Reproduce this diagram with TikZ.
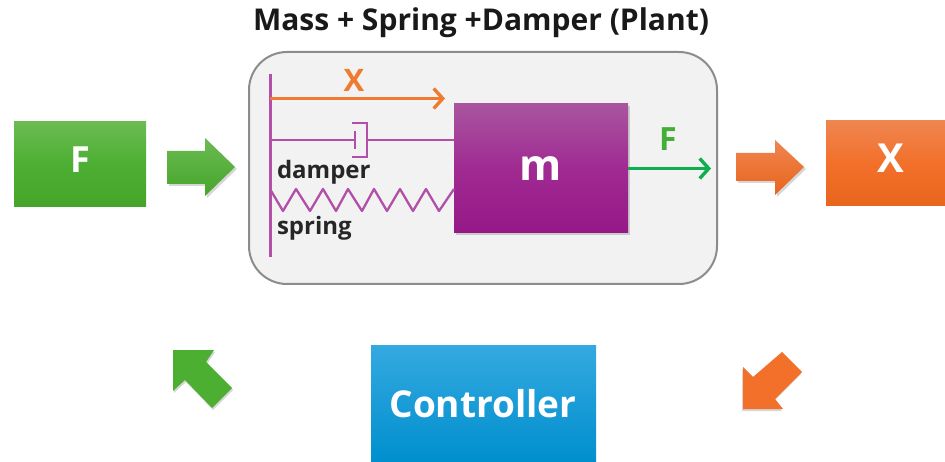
\documentclass[tikz,border=0pt]{standalone}
\usepackage{fontspec}
\setmainfont{Open Sans}
\usetikzlibrary{arrows.meta}
\definecolor{grn}{HTML}{4CAF32}
\definecolor{grntop}{HTML}{6BBB52}
\definecolor{grnbot}{HTML}{45A52A}
\definecolor{org}{HTML}{F2702A}
\definecolor{orgtop}{HTML}{EF8550}
\definecolor{orgbot}{HTML}{E8651C}
\definecolor{purtop}{HTML}{A9559F}
\definecolor{purmid}{HTML}{A02A92}
\definecolor{purbot}{HTML}{961888}
\definecolor{blutop}{HTML}{34A9E0}
\definecolor{blumid}{HTML}{10A0DC}
\definecolor{blubot}{HTML}{008FCE}
\definecolor{sprc}{HTML}{B24FA8}
\definecolor{arrorg}{HTML}{EE7B30}
\definecolor{arrgrn}{HTML}{0FAE4E}
\tikzset{
  x=1pt,y=-1pt,
  every node/.style={font=\bfseries,inner sep=0pt,outer sep=0pt},
  softshadow/.style={fill=black,opacity=.16},
  greenbox/.style={top color=grntop,bottom color=grnbot,middle color=grn},
  orangebox/.style={top color=orgtop,bottom color=orgbot,middle color=org},
  wall/.style={draw=sprc,line width=3pt},
  thin wall/.style={draw=sprc,line width=2.3pt},
  thinarrow/.style={line width=3.4pt,-{Straight Barb[length=9pt,width=20pt,line width=3.4pt]}},
  boxlabel/.style={text=white,anchor=center},
  smalllabel/.style={text=black!85,font=\bfseries\fontsize{24}{26}\selectfont,anchor=base west},
}
\begin{document}
\begin{tikzpicture}
\useasboundingbox (0,0) rectangle (945,462);
\fill[white] (0,0) rectangle (945,462);
% plant
\node[anchor=center,font=\bfseries\fontsize{30}{34}\selectfont,text=black!90] (title) at (481,23) {Mass + Spring +Damper (Plant)};
\draw[draw=black!45,line width=2pt,fill=black!5,rounded corners=38pt] (249,52) rectangle (717,284);
% mass
\fill[softshadow] (456,106) rectangle (630,235);
\shade[top color=purtop,bottom color=purbot,middle color=purmid] (454,104) rectangle (628,233);
\coordinate (mw) at (454,140);
\coordinate (me) at (628,168.5);
\node[boxlabel,font=\bfseries\fontsize{43}{46}\selectfont] (m) at (541,169) {m};
% wall
\coordinate (wt) at (270,74);
\coordinate (wb) at (270,257);
\draw[wall] (wt) -- (wb);
% X arrow
\coordinate (xs) at (270,98.5);
\coordinate (xe) at (445,98.5);
\draw[draw=arrorg,thinarrow] (xs) -- (xe);
\node[text=arrorg,font=\bfseries\fontsize{31}{34}\selectfont] (xl) at (354,80) {X};
% damper
\coordinate (ds) at (270,140);
\coordinate (dp) at (355,140);
\coordinate (dc) at (367,140);
\draw[thin wall] (ds) -- (dp);
\draw[thin wall] (355,131.5) -- (355,149);
\draw[thin wall] (352,123) -- (367,123) -- (367,157) -- (352,157);
\draw[thin wall] (dc) -- (mw);
\node[smalllabel] (dl) at (277,179) {damper};
% spring
\draw[thin wall,line join=round] (270,189) -- (283,211) -- (296,189) -- (310,211) -- (323,189) -- (336,211) -- (348,189) -- (362,211) -- (374,189) -- (387,211) -- (400,189) -- (413,211) -- (426,189) -- (439,211) -- (454,189);
\node[smalllabel] (sl) at (277,235) {spring};
% F arrow
\coordinate (fe) at (711,168.5);
\draw[draw=arrgrn,thinarrow] (me) -- (fe);
\node[text=grn!85!arrgrn,font=\bfseries\fontsize{32}{35}\selectfont] (fl) at (668,139) {F};
% boxes
\shade[greenbox] (14,122) rectangle (146,207);
\node[boxlabel,font=\bfseries\fontsize{36}{40}\selectfont] (f) at (80,160) {F};
\shade[orangebox] (826,121) rectangle (945,206);
\node[boxlabel,font=\bfseries\fontsize{40}{44}\selectfont] (x) at (891,158) {X};
\shade[top color=blutop,middle color=blumid,bottom color=blubot] (371,345) rectangle (596,462);
\node[boxlabel,font=\bfseries\fontsize{37}{40}\selectfont] (c) at (483,404) {Controller};
% block arrows
\fill[softshadow,shift={(2,2)}] (167,151) -- (205,151) -- (205,138) -- (235,167) -- (205,196) -- (205,184) -- (167,184) -- cycle;
\shade[top color=grntop,bottom color=grnbot] (167,151) -- (205,151) -- (205,138) -- (235,167) -- (205,196) -- (205,184) -- (167,184) -- cycle;
\fill[softshadow,shift={(2,2)}] (736,153) -- (775,153) -- (775,140) -- (804,167) -- (775,195) -- (775,181) -- (736,181) -- cycle;
\shade[top color=orgtop,bottom color=orgbot] (736,153) -- (775,153) -- (775,140) -- (804,167) -- (775,195) -- (775,181) -- (736,181) -- cycle;
\fill[softshadow,shift={(1,2)}] (173,350) -- (214,350) -- (206,362) -- (232,388) -- (212,408) -- (185,380) -- (173,391) -- cycle;
\fill[grn] (173,350) -- (214,350) -- (206,362) -- (232,388) -- (212,408) -- (185,380) -- (173,391) -- cycle;
\fill[softshadow,shift={(-1,2)}] (782,352) -- (802,372) -- (775,399) -- (783,409) -- (743,409) -- (743,367) -- (753,377) -- cycle;
\fill[org] (782,352) -- (802,372) -- (775,399) -- (783,409) -- (743,409) -- (743,367) -- (753,377) -- cycle;
\end{tikzpicture}
\end{document}
